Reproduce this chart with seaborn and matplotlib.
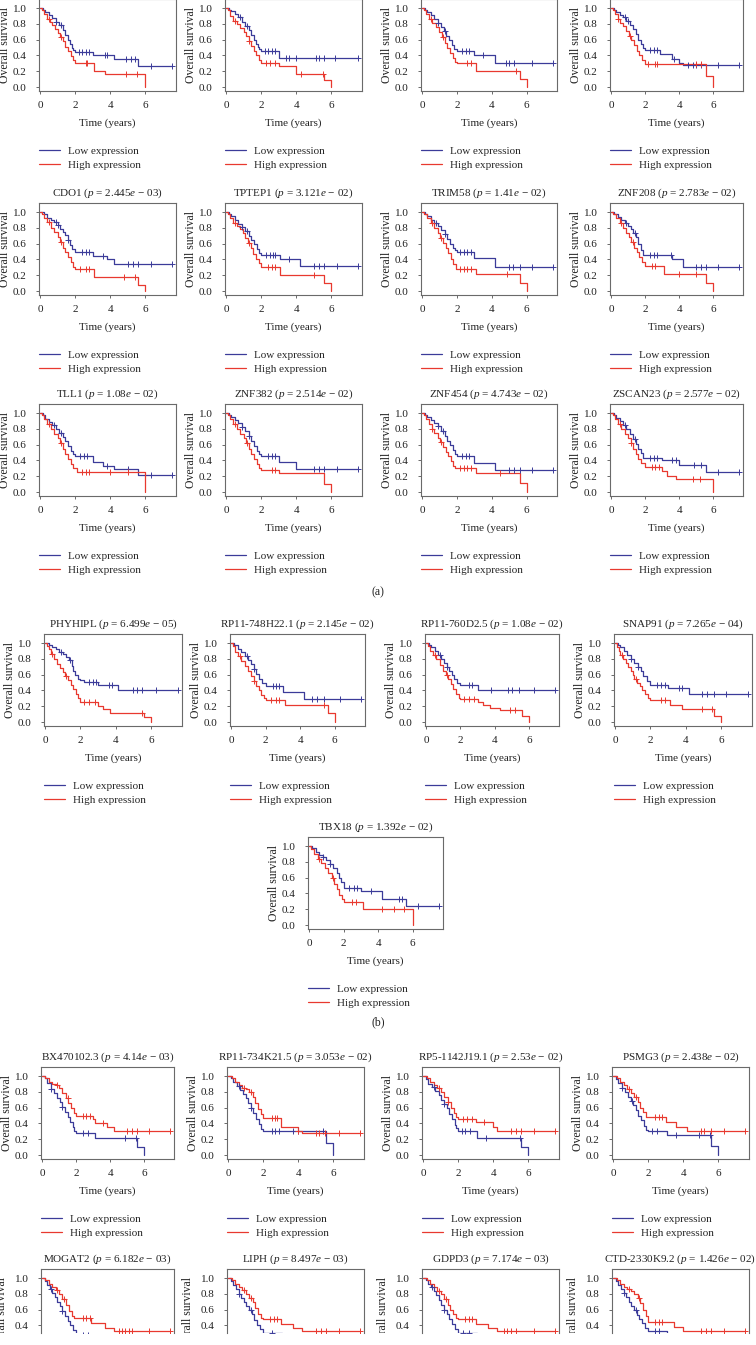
import numpy as np
import pandas as pd
import matplotlib
matplotlib.use("Agg")
import matplotlib.pyplot as plt
import seaborn as sns
from matplotlib.transforms import Bbox, TransformedBbox

sns.set_style("white")
plt.rcParams["font.family"] = ["Liberation Serif", "DejaVu Serif"]
plt.rcParams["mathtext.fontset"] = "custom"
plt.rcParams["mathtext.rm"] = "Liberation Serif"
plt.rcParams["mathtext.it"] = "Liberation Serif:italic"

LOW_COLOR = "#3b3b99"
HIGH_COLOR = "#e8392f"

# ------------------------------------------------------------------ data
# (a) 3 rows x 4 panels (first row titles are cropped away in the figure)
a_genes = [None, None, None, None,
           "CDO1", "TPTEP1", "TRIM58", "ZNF208",
           "TLL1", "ZNF382", "ZNF454", "ZSCAN23"]
a_pval = [None, None, None, None,
          "2.445", "3.121", "1.41", "2.783",
          "1.08", "2.514", "4.743", "2.577"]
a_pexp = [None, None, None, None, "03", "02", "02", "02", "02", "02", "02", "02"]

a_low = [
    [(0, 1), (0.15, .98), (0.3, .95), (0.5, .91), (0.7, .87), (0.9, .82), (1.1, .78), (1.3, .72), (1.45, .66), (1.6, .6), (1.7, .54), (1.8, .5), (1.9, .47), (2.0, .44), (3.0, .40), (4.2, .35), (5.6, .26), (7.5, .26)],
    [(0, 1), (0.15, .98), (0.3, .96), (0.5, .92), (0.7, .88), (0.9, .82), (1.1, .77), (1.3, .72), (1.45, .66), (1.6, .6), (1.7, .55), (1.8, .51), (1.9, .48), (2.0, .46), (3.0, .37), (7.5, .37)],
    [(0, 1), (0.15, .98), (0.3, .95), (0.5, .91), (0.7, .86), (0.9, .81), (1.1, .76), (1.25, .71), (1.4, .65), (1.55, .59), (1.7, .53), (1.85, .48), (2.0, .45), (3.0, .41), (4.2, .31), (7.5, .31)],
    [(0, 1), (0.15, .98), (0.3, .95), (0.5, .91), (0.7, .88), (0.9, .84), (1.1, .79), (1.3, .73), (1.45, .67), (1.6, .6), (1.75, .54), (1.9, .49), (2.0, .47), (2.9, .42), (3.6, .35), (4.0, .31), (4.2, .28), (7.5, .28)],
    [(0, 1), (0.2, .97), (0.4, .93), (0.6, .9), (0.8, .87), (1.0, .84), (1.15, .79), (1.3, .75), (1.45, .71), (1.6, .65), (1.7, .58), (1.8, .53), (2.0, .50), (3.0, .44), (3.8, .40), (4.2, .34), (7.5, .34)],
    [(0, 1), (0.15, .98), (0.3, .95), (0.5, .9), (0.7, .85), (0.9, .81), (1.1, .76), (1.3, .7), (1.45, .64), (1.6, .59), (1.75, .53), (1.9, .48), (2.0, .45), (3.1, .41), (4.2, .32), (7.5, .32)],
    [(0, 1), (0.15, .98), (0.3, .95), (0.5, .9), (0.7, .86), (0.9, .82), (1.1, .77), (1.3, .72), (1.45, .66), (1.6, .6), (1.75, .55), (1.9, .52), (2.0, .50), (3.0, .42), (4.2, .31), (7.5, .31)],
    [(0, 1), (0.2, .98), (0.4, .94), (0.6, .9), (0.8, .86), (1.0, .82), (1.15, .78), (1.3, .73), (1.45, .68), (1.6, .6), (1.75, .52), (1.9, .45), (3.6, .40), (4.2, .30), (7.5, .30)],
    [(0, 1), (0.15, .97), (0.3, .93), (0.5, .89), (0.7, .85), (0.9, .8), (1.1, .75), (1.3, .7), (1.45, .64), (1.6, .58), (1.75, .52), (1.9, .48), (2.0, .45), (3.0, .38), (3.6, .33), (4.2, .29), (5.6, .22), (7.5, .22)],
    [(0, 1), (0.15, .98), (0.3, .95), (0.5, .91), (0.7, .87), (0.9, .82), (1.1, .77), (1.3, .71), (1.45, .65), (1.6, .58), (1.75, .52), (1.9, .48), (2.0, .46), (3.0, .38), (4.0, .29), (7.5, .29)],
    [(0, 1), (0.15, .98), (0.3, .95), (0.5, .91), (0.7, .87), (0.9, .83), (1.1, .77), (1.3, .71), (1.45, .65), (1.6, .59), (1.75, .53), (1.9, .48), (2.0, .46), (3.0, .37), (4.2, .28), (7.5, .28)],
    [(0, 1), (0.15, .97), (0.3, .94), (0.5, .9), (0.7, .85), (0.9, .8), (1.1, .74), (1.3, .67), (1.45, .61), (1.6, .55), (1.75, .49), (1.9, .43), (3.0, .40), (4.0, .34), (5.6, .25), (7.5, .25)],
]
a_low_cens = [
    [0.9, 1.2, 2.2, 2.4, 2.6, 2.8, 3.7, 3.8, 4.9, 5.2, 5.4, 6.3, 7.5],
    [0.8, 1.2, 2.2, 2.4, 2.6, 2.8, 3.4, 3.6, 4.0, 5.1, 5.3, 5.6, 6.2, 7.5],
    [0.9, 1.3, 2.3, 2.5, 2.7, 3.5, 4.8, 5.0, 5.3, 6.3, 7.5],
    [0.8, 1.0, 2.3, 2.5, 2.7, 3.7, 4.5, 4.8, 5.0, 5.3, 6.3, 7.5],
    [0.9, 1.0, 1.6, 2.4, 2.6, 2.8, 3.6, 5.0, 5.3, 5.6, 6.3, 7.5],
    [0.9, 1.2, 2.3, 2.5, 2.7, 2.8, 3.6, 5.0, 5.3, 5.6, 6.3, 7.5],
    [0.8, 1.3, 2.2, 2.4, 2.6, 2.8, 5.0, 5.2, 5.6, 6.3, 7.5],
    [0.9, 1.4, 2.3, 2.5, 2.7, 3.5, 5.0, 5.3, 5.6, 6.3, 7.5],
    [0.8, 1.2, 2.3, 2.5, 2.7, 3.8, 5.0, 6.3, 7.5],
    [0.9, 1.3, 2.4, 2.6, 2.8, 5.0, 5.3, 5.6, 6.3, 7.5],
    [0.9, 1.2, 2.3, 2.5, 2.7, 5.0, 5.3, 5.6, 6.3, 7.5],
    [0.8, 1.4, 2.3, 2.5, 2.7, 3.6, 3.8, 4.9, 5.3, 6.3, 7.5],
]
a_high = [
    [(0, 1), (0.1, .97), (0.25, .92), (0.4, .86), (0.55, .82), (0.7, .78), (0.85, .73), (1.0, .68), (1.15, .63), (1.3, .58), (1.45, .51), (1.6, .45), (1.75, .39), (1.9, .34), (2.0, .31), (3.1, .20), (3.7, .16), (6.0, 0)],
    [(0, 1), (0.1, .97), (0.25, .9), (0.4, .84), (0.6, .8), (0.8, .75), (1.0, .7), (1.15, .64), (1.3, .58), (1.45, .52), (1.6, .45), (1.7, .4), (1.85, .34), (2.0, .30), (3.0, .26), (4.0, .17), (5.6, .09), (6.0, 0)],
    [(0, 1), (0.1, .97), (0.25, .92), (0.4, .86), (0.6, .81), (0.8, .76), (1.0, .7), (1.15, .63), (1.3, .56), (1.45, .49), (1.6, .43), (1.75, .37), (1.9, .32), (2.0, .30), (3.1, .20), (5.6, .10), (6.0, 0)],
    [(0, 1), (0.1, .97), (0.25, .92), (0.4, .86), (0.55, .81), (0.7, .77), (0.9, .71), (1.05, .65), (1.2, .59), (1.35, .53), (1.5, .46), (1.65, .4), (1.8, .34), (2.0, .29), (5.6, .14), (6.0, 0)],
    [(0, 1), (0.1, .97), (0.25, .92), (0.4, .87), (0.6, .8), (0.8, .75), (1.0, .68), (1.15, .62), (1.3, .55), (1.45, .49), (1.6, .43), (1.75, .37), (1.9, .31), (2.0, .28), (3.1, .18), (5.6, .08), (6.0, 0)],
    [(0, 1), (0.1, .97), (0.25, .92), (0.4, .86), (0.6, .82), (0.8, .78), (0.95, .73), (1.1, .67), (1.25, .61), (1.4, .54), (1.55, .47), (1.7, .41), (1.85, .35), (2.0, .30), (3.1, .20), (5.6, .10), (6.0, 0)],
    [(0, 1), (0.1, .97), (0.3, .92), (0.5, .86), (0.7, .8), (0.9, .73), (1.05, .67), (1.2, .61), (1.35, .55), (1.5, .48), (1.65, .41), (1.8, .34), (1.95, .28), (3.1, .22), (5.6, .10), (6.0, 0)],
    [(0, 1), (0.1, .97), (0.3, .92), (0.5, .86), (0.7, .8), (0.9, .74), (1.05, .68), (1.2, .62), (1.35, .55), (1.5, .49), (1.65, .43), (1.8, .37), (2.0, .32), (3.1, .22), (5.6, .10), (6.0, 0)],
    [(0, 1), (0.1, .97), (0.25, .92), (0.4, .86), (0.6, .8), (0.8, .74), (1.0, .68), (1.15, .62), (1.3, .55), (1.45, .48), (1.6, .42), (1.75, .36), (1.9, .3), (2.1, .25), (6.0, 0)],
    [(0, 1), (0.1, .97), (0.25, .92), (0.4, .86), (0.6, .8), (0.8, .74), (1.0, .68), (1.15, .62), (1.3, .55), (1.45, .48), (1.6, .42), (1.75, .36), (1.9, .31), (2.0, .28), (3.0, .24), (5.6, .10), (6.0, 0)],
    [(0, 1), (0.1, .97), (0.25, .92), (0.4, .86), (0.55, .8), (0.7, .75), (0.9, .69), (1.05, .63), (1.2, .57), (1.35, .51), (1.5, .45), (1.65, .39), (1.8, .33), (1.9, .30), (3.1, .24), (5.6, .12), (6.0, 0)],
    [(0, 1), (0.1, .97), (0.25, .92), (0.4, .86), (0.6, .8), (0.8, .74), (1.0, .68), (1.15, .62), (1.3, .55), (1.45, .48), (1.6, .42), (1.75, .37), (2.0, .32), (3.0, .27), (3.3, .20), (3.8, .16), (6.0, 0)],
]
a_high_cens = [
    [0.5, 1.2, 2.6, 2.7, 4.9, 5.5],
    [0.5, 1.3, 2.3, 2.5, 2.8, 4.3, 5.5],
    [0.5, 1.2, 2.6, 2.8, 5.4],
    [0.4, 1.1, 2.2, 2.6, 2.7, 5.0, 5.3],
    [0.5, 1.2, 2.3, 2.6, 2.8, 4.8, 5.4],
    [0.5, 1.3, 2.4, 2.6, 2.8, 5.0],
    [0.6, 1.1, 2.2, 2.4, 2.6, 2.8, 4.9],
    [0.6, 1.3, 2.4, 2.6, 4.0, 5.0],
    [0.5, 1.2, 2.4, 2.6, 2.8, 4.0, 5.0],
    [0.5, 1.2, 2.6, 2.8],
    [0.6, 1.1, 2.2, 2.4, 2.6, 2.8, 4.5],
    [0.5, 1.2, 2.4, 2.6, 2.8, 4.8, 5.2],
]

# (b) 4 + 1 panels
b_genes = ["PHYHIPL", "RP11-748H22.1", "RP11-760D2.5", "SNAP91", "TBX18"]
b_pval = ["6.499", "2.145", "1.08", "7.265", "1.392"]
b_pexp = ["05", "02", "02", "04", "02"]
b_low = [
    [(0, 1), (0.2, .98), (0.4, .95), (0.6, .92), (0.8, .89), (1.0, .86), (1.2, .82), (1.35, .78), (1.5, .71), (1.6, .65), (1.7, .6), (1.85, .55), (2.0, .53), (2.2, .51), (3.0, .47), (4.1, .41), (7.5, .41)],
    [(0, 1), (0.2, .97), (0.4, .93), (0.6, .88), (0.8, .84), (1.0, .78), (1.15, .73), (1.3, .67), (1.45, .61), (1.6, .55), (1.8, .49), (2.0, .45), (3.0, .38), (4.2, .29), (7.5, .29)],
    [(0, 1), (0.15, .98), (0.3, .95), (0.5, .9), (0.7, .85), (0.9, .8), (1.05, .75), (1.2, .7), (1.35, .65), (1.5, .6), (1.65, .55), (1.8, .5), (2.0, .47), (3.0, .41), (7.5, .41)],
    [(0, 1), (0.15, .98), (0.3, .95), (0.5, .9), (0.7, .85), (0.9, .8), (1.1, .75), (1.3, .7), (1.45, .64), (1.6, .58), (1.8, .52), (2.0, .47), (3.0, .43), (4.2, .36), (7.5, .36)],
    [(0, 1), (0.2, .97), (0.4, .92), (0.6, .89), (0.8, .86), (1.0, .82), (1.2, .77), (1.4, .72), (1.6, .66), (1.75, .6), (1.85, .55), (2.0, .47), (3.0, .43), (4.2, .33), (5.6, .24), (7.5, .24)],
]
b_low_cens = [
    [0.9, 1.4, 2.5, 2.7, 2.9, 3.6, 3.8, 5.0, 5.2, 5.5, 6.3, 7.5],
    [0.9, 1.3, 2.4, 2.6, 2.8, 4.7, 5.0, 5.4, 6.3, 7.5],
    [0.8, 1.2, 2.5, 2.7, 3.8, 4.8, 5.0, 5.4, 6.3, 7.5],
    [0.9, 1.3, 2.4, 2.6, 2.8, 3.6, 3.8, 4.9, 5.2, 5.6, 6.3, 7.5],
    [0.8, 1.2, 2.3, 2.6, 2.8, 3.6, 5.2, 5.4, 6.3, 7.5],
]
b_high = [
    [(0, 1), (0.1, .96), (0.2, .92), (0.35, .86), (0.5, .8), (0.7, .74), (0.85, .68), (1.0, .63), (1.15, .58), (1.3, .53), (1.45, .47), (1.6, .42), (1.75, .35), (1.85, .3), (2.0, .25), (3.0, .20), (3.3, .16), (3.7, .12), (5.6, .07), (6.0, 0)],
    [(0, 1), (0.1, .96), (0.25, .88), (0.4, .83), (0.6, .77), (0.8, .71), (1.0, .64), (1.15, .58), (1.3, .52), (1.45, .45), (1.6, .40), (1.75, .34), (1.9, .30), (2.0, .28), (3.1, .22), (5.6, .11), (6.0, 0)],
    [(0, 1), (0.1, .96), (0.25, .9), (0.4, .85), (0.6, .8), (0.8, .72), (1.0, .65), (1.15, .6), (1.3, .55), (1.45, .48), (1.6, .42), (1.75, .36), (1.9, .31), (2.0, .29), (3.0, .25), (3.3, .21), (3.7, .18), (4.3, .15), (5.6, .08), (6.0, 0)],
    [(0, 1), (0.1, .95), (0.2, .9), (0.3, .85), (0.45, .8), (0.6, .75), (0.75, .7), (0.9, .65), (1.0, .6), (1.1, .55), (1.25, .5), (1.4, .45), (1.55, .4), (1.7, .35), (1.85, .3), (2.0, .28), (3.1, .22), (3.8, .16), (5.6, .08), (6.0, 0)],
    [(0, 1), (0.1, .96), (0.3, .9), (0.5, .84), (0.7, .78), (0.9, .72), (1.1, .66), (1.3, .6), (1.45, .52), (1.6, .45), (1.75, .38), (1.9, .33), (2.0, .29), (3.1, .20), (6.0, 0)],
]
b_high_cens = [
    [0.4, 1.2, 2.2, 2.5, 2.8, 5.5],
    [0.5, 1.3, 2.3, 2.6, 2.8, 5.4],
    [0.5, 1.2, 2.2, 2.5, 2.8, 4.9, 5.2],
    [0.4, 1.2, 2.6, 2.8, 4.9, 5.5],
    [0.6, 1.4, 2.5, 2.7, 4.2, 4.9, 5.5],
]

# (c) 4 + 4 panels (second row cropped at the bottom)
c_genes = ["BX470102.3", "RP11-734K21.5", "RP5-1142J19.1", "PSMG3",
           "MOGAT2", "LIPH", "GDPD3", "CTD-2330K9.2"]
c_pval = ["4.14", "3.053", "2.53", "2.438", "6.182", "8.497", "7.174", "1.426"]
c_pexp = ["03", "02", "02", "02", "03", "03", "03", "02"]
c_low = [
    [(0, 1), (0.15, .97), (0.3, .91), (0.5, .84), (0.7, .78), (0.9, .72), (1.05, .67), (1.2, .61), (1.35, .55), (1.5, .48), (1.65, .42), (1.8, .35), (1.9, .31), (2.0, .28), (3.1, .22), (5.6, .10), (6.0, 0)],
    [(0, 1), (0.15, .97), (0.3, .93), (0.5, .87), (0.7, .82), (0.85, .77), (1.0, .72), (1.15, .66), (1.3, .6), (1.45, .53), (1.6, .46), (1.75, .39), (1.9, .33), (2.0, .30), (5.6, .15), (6.0, 0)],
    [(0, 1), (0.15, .96), (0.3, .9), (0.5, .86), (0.7, .81), (0.9, .76), (1.05, .7), (1.2, .65), (1.35, .59), (1.5, .52), (1.65, .45), (1.8, .38), (1.9, .34), (2.0, .31), (3.1, .22), (5.6, .10), (6.0, 0)],
    [(0, 1), (0.15, .96), (0.3, .91), (0.5, .85), (0.7, .8), (0.85, .74), (1.0, .69), (1.15, .63), (1.3, .57), (1.45, .5), (1.6, .44), (1.75, .37), (1.9, .32), (2.0, .30), (3.1, .25), (5.6, .12), (6.0, 0)],
    [(0, 1), (0.15, .96), (0.3, .91), (0.45, .86), (0.6, .81), (0.75, .76), (0.9, .7), (1.05, .64), (1.2, .58), (1.35, .52), (1.5, .46), (1.65, .40), (1.8, .34), (2.0, .28), (3.1, .22), (5.6, .10), (6.0, 0)],
    [(0, 1), (0.15, .96), (0.3, .91), (0.45, .86), (0.6, .8), (0.75, .75), (0.9, .7), (1.05, .65), (1.2, .6), (1.35, .54), (1.5, .47), (1.65, .41), (1.8, .35), (2.0, .30), (3.1, .24), (5.6, .12), (6.0, 0)],
    [(0, 1), (0.15, .97), (0.3, .93), (0.45, .88), (0.6, .83), (0.75, .78), (0.9, .72), (1.05, .66), (1.2, .6), (1.35, .54), (1.5, .48), (1.65, .42), (1.8, .36), (2.0, .31), (3.1, .24), (5.6, .11), (6.0, 0)],
    [(0, 1), (0.15, .96), (0.3, .91), (0.45, .86), (0.6, .81), (0.75, .76), (0.9, .7), (1.05, .65), (1.2, .59), (1.35, .53), (1.5, .48), (1.65, .43), (1.8, .37), (2.0, .33), (3.1, .25), (5.6, .12), (6.0, 0)],
]
c_low_cens = [
    [0.5, 1.2, 2.4, 2.7, 4.9, 5.5],
    [0.6, 1.3, 2.5, 2.7, 2.9, 3.7, 4.0, 5.4],
    [0.6, 1.2, 2.2, 2.4, 2.7, 3.6, 5.5],
    [0.5, 1.1, 2.2, 2.5, 3.6, 4.9, 5.5],
    [0.5, 1.2, 2.4, 2.7, 4.9],
    [0.6, 1.3, 2.5, 3.6, 5.5],
    [0.5, 1.2, 2.3, 2.6, 5.4],
    [0.6, 1.3, 2.4, 2.6, 3.6, 5.5],
]
c_high = [
    [(0, 1), (0.2, .97), (0.4, .93), (0.6, .9), (0.8, .88), (1.0, .85), (1.2, .79), (1.4, .72), (1.55, .66), (1.7, .59), (1.85, .53), (2.0, .49), (3.0, .45), (3.1, .40), (3.8, .36), (4.2, .31), (7.5, .31)],
    [(0, 1), (0.2, .97), (0.4, .93), (0.6, .88), (0.8, .85), (1.0, .83), (1.2, .8), (1.4, .73), (1.55, .66), (1.7, .58), (1.85, .52), (2.0, .47), (3.0, .36), (4.0, .31), (4.2, .28), (7.5, .28)],
    [(0, 1), (0.2, .98), (0.4, .93), (0.6, .88), (0.8, .85), (1.0, .8), (1.2, .74), (1.4, .67), (1.6, .6), (1.75, .53), (1.9, .48), (2.0, .46), (3.0, .42), (4.0, .36), (4.2, .31), (7.5, .31)],
    [(0, 1), (0.2, .98), (0.4, .93), (0.6, .88), (0.8, .84), (1.0, .79), (1.2, .73), (1.4, .67), (1.55, .6), (1.7, .54), (1.85, .48), (3.0, .42), (3.6, .36), (4.2, .30), (7.5, .30)],
    [(0, 1), (0.2, .97), (0.4, .93), (0.6, .88), (0.8, .85), (1.0, .8), (1.2, .73), (1.4, .66), (1.6, .58), (1.75, .52), (1.9, .49), (2.9, .43), (3.7, .37), (4.2, .33), (7.5, .33)],
    [(0, 1), (0.2, .97), (0.4, .93), (0.6, .88), (0.8, .85), (1.0, .8), (1.2, .75), (1.4, .69), (1.55, .62), (1.7, .55), (1.85, .5), (2.0, .48), (3.0, .42), (3.7, .37), (4.2, .33), (7.5, .33)],
    [(0, 1), (0.2, .97), (0.4, .93), (0.6, .88), (0.8, .84), (1.0, .8), (1.2, .74), (1.4, .66), (1.55, .6), (1.7, .54), (1.85, .49), (2.0, .48), (3.0, .42), (3.7, .37), (4.2, .33), (7.5, .33)],
    [(0, 1), (0.2, .97), (0.4, .93), (0.6, .88), (0.8, .86), (1.0, .84), (1.2, .8), (1.4, .75), (1.55, .68), (1.7, .6), (1.85, .52), (2.0, .44), (3.5, .38), (4.0, .33), (7.5, .33)],
]
c_high_cens = [
    [0.9, 1.5, 2.4, 2.6, 2.8, 3.6, 5.0, 5.3, 5.6, 6.3, 7.5],
    [0.9, 1.3, 2.5, 2.7, 2.8, 4.0, 5.0, 5.2, 5.5, 6.3, 7.5],
    [0.9, 1.4, 2.3, 2.5, 2.8, 3.5, 5.0, 5.3, 5.6, 6.3, 7.5],
    [0.9, 1.3, 2.4, 2.6, 2.8, 5.0, 5.2, 5.6, 6.3, 7.5],
    [0.9, 1.3, 2.4, 2.6, 2.8, 4.5, 4.7, 4.9, 5.1, 5.3, 6.3, 7.5],
    [0.9, 1.3, 2.4, 2.6, 2.8, 5.0, 5.3, 5.6, 6.3, 7.5],
    [0.9, 1.3, 2.4, 2.6, 2.8, 4.6, 4.8, 5.0, 5.3, 6.3, 7.5],
    [0.9, 1.5, 2.4, 2.6, 2.8, 5.0, 5.3, 5.6, 6.3, 7.5],
]

section_labels = ["(a)", "(b)"]

# ------------------------------------------------------------------ layout (pixels)
W, H = 756, 1345
fig = plt.figure(figsize=(W / 100, H / 100), dpi=100)
fig.patch.set_facecolor("white")

YTOP, YBOT = 1.114, -0.05


def step_at(pts, times):
    ts = np.array([p[0] for p in pts])
    ss = np.array([p[1] for p in pts])
    idx = np.searchsorted(ts, np.asarray(times), side="right") - 1
    return ss[idx]


def make_axes(left, right, y1, cut_bottom=None):
    top = y1 - 9
    bottom = y1 + 83 if cut_bottom is None else cut_bottom
    ax = fig.add_axes([left / W, 1 - bottom / H, (right - left) / W, (bottom - top) / H])
    return ax


def draw_panel(ax, low, low_c, high, high_c, title, cut=False, y1=None):
    handles = []
    for pts, cens, color in ((low, low_c, LOW_COLOR), (high, high_c, HIGH_COLOR)):
        df = pd.DataFrame(pts, columns=["time", "surv"])
        sns.lineplot(data=df, x="time", y="surv", drawstyle="steps-post", color=color,
                     lw=0.9, estimator=None, sort=False, ax=ax, legend=False)
        handles.append(ax.lines[-1])
        cdf = pd.DataFrame({"time": cens, "surv": step_at(pts, cens)})
        sns.scatterplot(data=cdf, x="time", y="surv", marker="+", s=16, color=color,
                        linewidth=0.7, ax=ax, legend=False, zorder=3)
    ax.set_xlim(-0.06, 7.75)
    ax.set_xticks([0, 2, 4, 6])
    ax.set_xticklabels(["0", "2", "4", "6"])
    for sp in ax.spines.values():
        sp.set_color("#6a6a6a")
        sp.set_linewidth(0.8)
    ax.tick_params(axis="both", which="both", direction="out", length=2.5, width=0.7,
                   color="#6a6a6a", labelsize=8, labelcolor="#222222", left=True, bottom=True)
    ax.tick_params(axis="y", pad=6.5)
    ax.tick_params(axis="x", pad=5.0)
    ax.set_ylabel("Overall survival", fontsize=8.5, color="#222222", labelpad=1)
    if title is not None:
        ax.set_title(title, fontsize=8, color="#222222", pad=5.5)
    if cut:
        # panel row cropped at the bottom of the figure
        bottom_val = YTOP - (ax.bbox.height / 79.0)
        ax.set_ylim(bottom_val, YTOP)
        ax.set_yticks([0.4, 0.6, 0.8, 1.0])
        ax.set_yticklabels(["0.4", "0.6", "0.8", "1.0"])
        ax.spines["bottom"].set_visible(False)
        ax.tick_params(axis="x", bottom=False, labelbottom=False)
        ax.set_xlabel("")
        full_center = (y1 - 9 + y1 + 83) / 2.0
        cut_bottom = y1 + 55
        ycoord = (cut_bottom - full_center) / ax.bbox.height
        ax.yaxis.set_label_coords(-33.0 / ax.bbox.width, ycoord)
        clip = TransformedBbox(Bbox([[0, 1 - cut_bottom / H], [1, 1]]), fig.transFigure)
        ax.yaxis.label.set_clip_box(clip)
        ax.yaxis.label.set_clip_on(True)
        return
    ax.set_ylim(YBOT, YTOP)
    ax.set_yticks([0, 0.2, 0.4, 0.6, 0.8, 1.0])
    ax.set_yticklabels(["0.0", "0.2", "0.4", "0.6", "0.8", "1.0"])
    ax.set_xlabel("Time (years)", fontsize=8, color="#222222", labelpad=6.0)
    ax.legend(handles, ["Low expression", "High expression"], loc="upper left",
              bbox_to_anchor=(0.0, -0.595), bbox_transform=ax.transAxes, frameon=False,
              borderpad=0, borderaxespad=0, handlelength=1.9, handletextpad=0.7,
              labelspacing=0.45, fontsize=8)


def fmt_title(g, p, e):
    if g is None:
        return None
    return f"{g} ($p$ = {p}$e$ \u2212 {e})"


a_cols = [(39, 176), (225, 362), (421, 557), (610, 743)]
a_rows = [8, 212, 413]
for i in range(12):
    r, c = divmod(i, 4)
    ax = make_axes(a_cols[c][0], a_cols[c][1], a_rows[r])
    draw_panel(ax, a_low[i], a_low_cens[i], a_high[i], a_high_cens[i],
               fmt_title(a_genes[i], a_pval[i], a_pexp[i]))

b_cols = [(44, 182), (230, 365), (425, 559), (614, 752), (308, 443)]
b_rows = [643, 643, 643, 643, 846]
for i in range(5):
    ax = make_axes(b_cols[i][0], b_cols[i][1], b_rows[i])
    draw_panel(ax, b_low[i], b_low_cens[i], b_high[i], b_high_cens[i],
               fmt_title(b_genes[i], b_pval[i], b_pexp[i]))

c_cols = [(41, 174), (227, 364), (422, 559), (612, 749)]
c_rows = [1076, 1278]
for i in range(8):
    r, c = divmod(i, 4)
    y1 = c_rows[r]
    if r == 1:
        ax = make_axes(c_cols[c][0], c_cols[c][1], y1, cut_bottom=y1 + 55)
        draw_panel(ax, c_low[i], c_low_cens[i], c_high[i], c_high_cens[i],
                   fmt_title(c_genes[i], c_pval[i], c_pexp[i]), cut=True, y1=y1)
    else:
        ax = make_axes(c_cols[c][0], c_cols[c][1], y1)
        draw_panel(ax, c_low[i], c_low_cens[i], c_high[i], c_high_cens[i],
                   fmt_title(c_genes[i], c_pval[i], c_pexp[i]))

fig.text(378 / W, 1 - 592 / H, section_labels[0], ha="center", va="center", fontsize=8.5, color="#222222")
fig.text(378 / W, 1 - 1022 / H, section_labels[1], ha="center", va="center", fontsize=8.5, color="#222222")

fig.savefig("out.png", dpi=100, facecolor="white")
